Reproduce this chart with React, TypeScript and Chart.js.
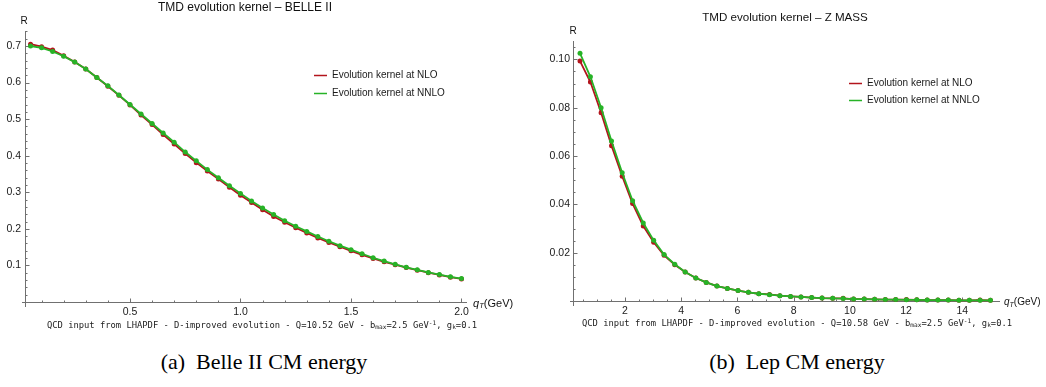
import React, { useEffect, useRef } from "react";
import { Chart, registerables } from "chart.js";

Chart.register(...registerables);

// ---------------- data ----------------
const qtBelle = [
  0.05, 0.1, 0.15, 0.2, 0.25, 0.3, 0.35, 0.4, 0.45, 0.5,
  0.55, 0.6, 0.65, 0.7, 0.75, 0.8, 0.85, 0.9, 0.95, 1.0,
  1.05, 1.1, 1.15, 1.2, 1.25, 1.3, 1.35, 1.4, 1.45, 1.5,
  1.55, 1.6, 1.65, 1.7, 1.75, 1.8, 1.85, 1.9, 1.95, 2.0,
];
const nloBelle = [
  0.705, 0.698, 0.689, 0.673, 0.656, 0.637, 0.614, 0.59, 0.565, 0.539,
  0.511, 0.485, 0.458, 0.432, 0.406, 0.381, 0.358, 0.336, 0.314, 0.292,
  0.272, 0.252, 0.234, 0.218, 0.203, 0.189, 0.175, 0.163, 0.151, 0.14,
  0.129, 0.119, 0.11, 0.102, 0.094, 0.087, 0.08, 0.074, 0.068, 0.063,
];
const nnloBelle = [
  0.7, 0.695, 0.685, 0.672, 0.656, 0.637, 0.614, 0.591, 0.566, 0.54,
  0.514, 0.488, 0.462, 0.437, 0.41, 0.386, 0.362, 0.34, 0.318, 0.297,
  0.276, 0.257, 0.239, 0.222, 0.207, 0.193, 0.179, 0.166, 0.154, 0.143,
  0.132, 0.121, 0.112, 0.103, 0.095, 0.088, 0.081, 0.075, 0.069, 0.064,
];

const qtZ = [
  0.4, 0.77, 1.15, 1.52, 1.9, 2.27, 2.65, 3.02, 3.39, 3.77,
  4.14, 4.52, 4.89, 5.27, 5.64, 6.02, 6.39, 6.76, 7.14, 7.51,
  7.89, 8.26, 8.64, 9.01, 9.39, 9.76, 10.13, 10.51, 10.88, 11.26,
  11.63, 12.01, 12.38, 12.75, 13.13, 13.5, 13.88, 14.25, 14.63, 15.0,
];
const nloZ = [
  0.0993, 0.0906, 0.0779, 0.0643, 0.0516, 0.0403, 0.031, 0.0243, 0.0189, 0.015,
  0.012, 0.0095, 0.0077, 0.0062, 0.0052, 0.0043, 0.0036, 0.003, 0.0027, 0.0022,
  0.0019, 0.0017, 0.0014, 0.0012, 0.0011, 0.0011, 0.0008, 0.0008, 0.0007, 0.0006,
  0.0006, 0.0006, 0.0005, 0.0004, 0.0004, 0.0004, 0.0003, 0.0003, 0.0004, 0.0003,
];
const nnloZ = [
  0.1025, 0.0928, 0.08, 0.0662, 0.0531, 0.0415, 0.0323, 0.0251, 0.0192, 0.0152,
  0.012, 0.0095, 0.0077, 0.0062, 0.0052, 0.0043, 0.0036, 0.003, 0.0026, 0.0022,
  0.0019, 0.0017, 0.0014, 0.0012, 0.0011, 0.001, 0.0008, 0.0008, 0.0007, 0.0006,
  0.0006, 0.0005, 0.0005, 0.0004, 0.0004, 0.0004, 0.0003, 0.0003, 0.0003, 0.0003,
];

const belleXTicks = [0.5, 1.0, 1.5, 2.0];
const belleYTicks = [0.1, 0.2, 0.3, 0.4, 0.5, 0.6, 0.7];
const zXTicks = [2, 4, 6, 8, 10, 12, 14];
const zYTicks = [0.02, 0.04, 0.06, 0.08, 0.1];

const seriesLabels = ["Evolution kernel at NLO", "Evolution kernel at NNLO"];

// ---------------- styles ----------------
const RED = "#b3141c";
const GREEN = "#27b327";
const AXIS = "#707070";
const SANS = '"Liberation Sans", Arial, sans-serif';
const MONO = '"DejaVu Sans Mono", "Liberation Mono", monospace';
const SERIF = '"Liberation Serif", "Times New Roman", serif';

type PanelCfg = {
  xs: number[];
  nlo: number[];
  nnlo: number[];
  xMin: number;
  xMax: number;
  yMax: number;
  xTicks: number[];
  yTicks: number[];
  xDec: number;
  yDec: number;
  xMajor: number;
  yMajor: number;
  xMinor: number;
  yMinor: number;
  width: number;
  height: number;
  padding: { left: number; right: number; top: number; bottom: number };
  yWidth: number;
  yPad: number;
  legendX: number;
  legendY: number;
  legendGap: number;
  tickFont: number;
};

function makePlugin(cfg: PanelCfg) {
  return {
    id: "mathAxes",
    beforeDatasetsDraw(chart: any) {
      const { ctx, chartArea: a, scales } = chart;
      const xs = scales.x;
      const ys = scales.y;
      ctx.save();
      ctx.strokeStyle = AXIS;
      ctx.lineWidth = 1;
      const x0 = Math.round(a.left) + 0.5;
      const y0 = Math.round(a.bottom) + 0.5;
      ctx.beginPath();
      ctx.moveTo(x0, a.top);
      ctx.lineTo(x0, a.bottom + 5);
      ctx.moveTo(a.left - 3, y0);
      ctx.lineTo(a.right, y0);
      const near = (v: number, m: number) => Math.abs(v / m - Math.round(v / m)) < 1e-6;
      for (let k = Math.ceil(xs.min / cfg.xMinor - 1e-9); k * cfg.xMinor <= xs.max + 1e-9; k++) {
        const v = k * cfg.xMinor;
        const px = Math.round(xs.getPixelForValue(v)) + 0.5;
        const len = near(v, cfg.xMajor) ? 4 : 2;
        ctx.moveTo(px, y0);
        ctx.lineTo(px, y0 - len);
      }
      for (let k = Math.ceil(ys.min / cfg.yMinor - 1e-9) + 1; k * cfg.yMinor <= ys.max + 1e-9; k++) {
        const v = k * cfg.yMinor;
        const py = Math.round(ys.getPixelForValue(v)) + 0.5;
        const len = near(v, cfg.yMajor) ? 4 : 2;
        ctx.moveTo(x0, py);
        ctx.lineTo(x0 + len, py);
      }
      ctx.stroke();
      ctx.restore();
    },
    afterDraw(chart: any) {
      const { ctx } = chart;
      ctx.save();
      chart.data.datasets.forEach((ds: any, i: number) => {
        const y = cfg.legendY + i * cfg.legendGap;
        ctx.strokeStyle = ds.borderColor;
        ctx.lineWidth = 1.5;
        ctx.beginPath();
        ctx.moveTo(cfg.legendX, y + 0.5);
        ctx.lineTo(cfg.legendX + 13, y + 0.5);
        ctx.stroke();
        ctx.fillStyle = "#1a1a1a";
        ctx.font = `10px ${SANS}`;
        ctx.textBaseline = "middle";
        ctx.textAlign = "left";
        ctx.fillText(ds.label, cfg.legendX + 18, y + 0.5);
      });
      ctx.restore();
    },
  };
}

function Panel({ cfg, style }: { cfg: PanelCfg; style: React.CSSProperties }) {
  const ref = useRef<HTMLCanvasElement | null>(null);
  useEffect(() => {
    if (!ref.current) return;
    const mk = (data: number[]) => cfg.xs.map((x, i) => ({ x, y: data[i] }));
    const common = {
      borderWidth: 1.8,
      pointRadius: 2.5,
      pointBorderWidth: 0,
      tension: 0,
      clip: false,
    };
    const chart = new Chart(ref.current, {
      type: "line",
      data: {
        datasets: [
          {
            label: seriesLabels[0],
            data: mk(cfg.nlo),
            borderColor: RED,
            backgroundColor: RED,
            pointBackgroundColor: RED,
            pointBorderColor: RED,
            order: 2,
            ...common,
          },
          {
            label: seriesLabels[1],
            data: mk(cfg.nnlo),
            borderColor: GREEN,
            backgroundColor: GREEN,
            pointBackgroundColor: GREEN,
            pointBorderColor: GREEN,
            order: 1,
            ...common,
          },
        ],
      },
      options: {
        responsive: false,
        animation: false,
        devicePixelRatio: 1,
        layout: { padding: cfg.padding },
        plugins: { legend: { display: false }, tooltip: { enabled: false }, title: { display: false } },
        scales: {
          x: {
            type: "linear",
            min: cfg.xMin,
            max: cfg.xMax,
            grid: { display: false, drawTicks: false },
            border: { display: false },
            ticks: {
              color: "#1a1a1a",
              font: { family: SANS, size: cfg.tickFont },
              padding: 4,
              maxRotation: 0,
              autoSkip: false,
              callback: (v: any) => Number(v).toFixed(cfg.xDec),
            },
            afterBuildTicks: (s: any) => {
              s.ticks = cfg.xTicks.map((v) => ({ value: v }));
            },
            afterFit: (s: any) => {
              s.height = 20;
            },
          },
          y: {
            type: "linear",
            min: 0,
            max: cfg.yMax,
            grid: { display: false, drawTicks: false },
            border: { display: false },
            ticks: {
              color: "#1a1a1a",
              font: { family: SANS, size: cfg.tickFont },
              padding: cfg.yPad,
              autoSkip: false,
              callback: (v: any) => Number(v).toFixed(cfg.yDec),
            },
            afterBuildTicks: (s: any) => {
              s.ticks = cfg.yTicks.map((v) => ({ value: v }));
            },
            afterFit: (s: any) => {
              s.width = cfg.yWidth;
            },
          },
        },
      },
      plugins: [makePlugin(cfg)],
    } as any);
    return () => chart.destroy();
  }, []);
  return <canvas ref={ref} width={cfg.width} height={cfg.height} style={{ position: "absolute", width: cfg.width, height: cfg.height, ...style }} />;
}

const belleCfg: PanelCfg = {
  xs: qtBelle,
  nlo: nloBelle,
  nnlo: nnloBelle,
  xMin: 0.025,
  xMax: 2.025,
  yMax: 0.741,
  xTicks: belleXTicks,
  yTicks: belleYTicks,
  xDec: 1,
  yDec: 1,
  xMajor: 0.5,
  yMajor: 0.1,
  xMinor: 0.1,
  yMinor: 0.02,
  width: 520,
  height: 340,
  padding: { left: 0, right: 53, top: 31, bottom: 18 },
  yWidth: 25,
  yPad: 4,
  legendX: 314,
  legendY: 75,
  legendGap: 18,
  tickFont: 10.5,
};

const zCfg: PanelCfg = {
  xs: qtZ,
  nlo: nloZ,
  nnlo: nnloZ,
  xMin: 0.15,
  xMax: 15.34,
  yMax: 0.1076,
  xTicks: zXTicks,
  yTicks: zYTicks,
  xDec: 0,
  yDec: 2,
  xMajor: 2,
  yMajor: 0.02,
  xMinor: 0.5,
  yMinor: 0.005,
  width: 526,
  height: 340,
  padding: { left: 0, right: 46, top: 41, bottom: 19 },
  yWidth: 53,
  yPad: 3,
  legendX: 329,
  legendY: 83,
  legendGap: 17,
  tickFont: 10.5,
};

function Txt({ x, y, size, family, children, center = true, style = {} }: any) {
  return (
    <div
      style={{
        position: "absolute",
        left: x,
        top: y,
        transform: center ? "translate(-50%, -50%)" : "translate(0, -50%)",
        whiteSpace: "nowrap",
        fontFamily: family,
        fontSize: size,
        lineHeight: 1,
        color: "#111",
        ...style,
      }}
    >
      {children}
    </div>
  );
}

const subS: React.CSSProperties = { fontSize: "0.7em", verticalAlign: "-0.25em", lineHeight: 0 };
const supS: React.CSSProperties = { fontSize: "0.7em", verticalAlign: "0.45em", lineHeight: 0 };

function QtLabel({ x, y, size }: any) {
  return (
    <Txt x={x} y={y} size={size} family={SANS} center={false}>
      <i>q</i>
      <i style={subS}>T</i>(GeV)
    </Txt>
  );
}

function SubLine({ x, y, q }: any) {
  return (
    <Txt x={x} y={y} size={8.8} family={MONO} style={{ color: "#222" }}>
      QCD input from LHAPDF - D-improved evolution - Q={q} GeV - b<span style={subS}>max</span>=2.5 GeV
      <span style={supS}>-1</span>, g<span style={subS}>k</span>=0.1
    </Txt>
  );
}

export default function App() {
  return (
    <div style={{ position: "absolute", left: 0, top: 0, width: 1046, height: 387, background: "#fff", overflow: "hidden" }}>
      <Panel cfg={belleCfg} style={{ left: 0, top: 0 }} />
      <Panel cfg={zCfg} style={{ left: 520, top: 0 }} />

      <Txt x={245} y={7} size={12} family={SANS}>TMD evolution kernel – BELLE II</Txt>
      <Txt x={785} y={17} size={11.6} family={SANS}>TMD evolution kernel – Z MASS</Txt>

      <Txt x={24} y={21} size={10} family={SANS}>R</Txt>
      <Txt x={573} y={31} size={10} family={SANS}>R</Txt>

      <QtLabel x={473} y={303} size={11} />
      <QtLabel x={1004} y={302} size={10} />

      <SubLine x={262} y={325} q="10.52" />
      <SubLine x={797} y={323} q="10.58" />

      <Txt x={264} y={362} size={22} family={SERIF} style={{ color: "#000" }}>(a)&nbsp; Belle II CM energy</Txt>
      <Txt x={797} y={362} size={22} family={SERIF} style={{ color: "#000" }}>(b)&nbsp; Lep CM energy</Txt>
    </div>
  );
}
